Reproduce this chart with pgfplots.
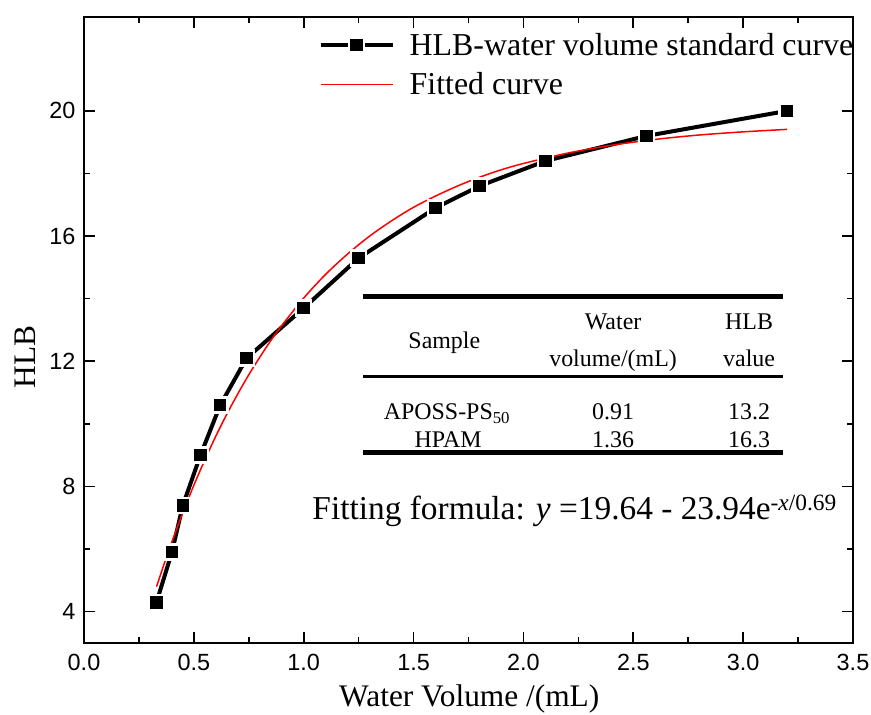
\documentclass[border=0pt]{standalone}
\usepackage{fontspec}
\setmainfont{Liberation Serif}
\newfontfamily\ticksans{Liberation Sans}
\usepackage{pgfplots}
\pgfplotsset{compat=1.18}
\begin{document}
\begin{tikzpicture}
\path[use as bounding box] (-84bp,-72bp) rectangle (787bp,643bp);
\begin{axis}[
  name=ax,
  at={(0,0)}, anchor=south west,
  width=769bp, height=626bp, scale only axis,
  xmin=0, xmax=3.5, ymin=3, ymax=23,
  xtick={0,0.5,1,1.5,2,2.5,3,3.5},
  ytick={4,8,12,16,20},
  minor x tick num=1,
  minor y tick num=1,
  tick align=inside,
  major tick length=11bp, minor tick length=6bp,
  axis line style={line width=1.6bp},
  every tick/.style={black, line width=1.6bp},
  /pgf/number format/assume math mode=true,
  xticklabel style={font=\fontsize{23.5}{27}\selectfont\ticksans, yshift=-8bp, /pgf/number format/.cd, fixed, fixed zerofill, precision=1},
  yticklabel style={font=\fontsize{23.5}{27}\selectfont\ticksans, xshift=-5bp},
  xlabel={Water Volume /(mL)},
  ylabel={HLB},
  label style={font=\fontsize{31.5}{36}\selectfont},
  xlabel style={at={(axis description cs:0.501,-0.1022)}, anchor=base},
  ylabel style={at={(axis description cs:-0.0637,0.457)}, anchor=base},
  legend style={at={(axis description cs:0.305,0.978)}, anchor=north west, draw=none, fill=none,
    font=\fontsize{32}{36}\selectfont, inner sep=0pt, row sep=12bp},
  legend cell align=left,
  legend image code/.code={\draw[mark repeat=2,mark phase=2,#1] plot coordinates {(0bp,0bp) (36bp,0bp) (72bp,0bp)};\path (85bp,0bp);},
  clip=false,
]
\addplot[black, line width=4bp, mark=square*, mark size=7.5bp,
  mark options={solid, fill=black, draw=white, line width=2.5bp}] coordinates {
(0.33,4.3) (0.40,5.9) (0.45,7.4) (0.53,9.0) (0.62,10.6) (0.74,12.1) (1.00,13.7)
(1.25,15.3) (1.60,16.9) (1.80,17.6) (2.10,18.4) (2.56,19.2) (3.20,20.0)
};
\addlegendentry{HLB-water volume standard curve}
\addplot[red, line width=1.5bp, smooth, no marks] coordinates {
(0.33,4.80) (0.36,5.43) (0.40,6.23) (0.45,7.17) (0.50,8.04) (0.55,8.85) (0.60,9.61)
(0.65,10.31) (0.70,10.96) (0.75,11.57) (0.80,12.13) (0.85,12.66) (0.90,13.14)
(1.00,14.02) (1.10,14.78) (1.20,15.43) (1.30,16.00) (1.40,16.49) (1.50,16.92)
(1.60,17.28) (1.70,17.60) (1.80,17.88) (1.90,18.12) (2.00,18.32) (2.20,18.65)
(2.40,18.90) (2.60,19.09) (2.80,19.23) (3.00,19.33) (3.20,19.41)
};
\addlegendentry{Fitted curve}
% inset table
\draw[line width=5.5bp] (axis cs:1.270,14.07) -- (axis cs:3.182,14.07);
\draw[line width=3bp] (axis cs:1.270,11.52) -- (axis cs:3.182,11.52);
\draw[line width=5.5bp] (axis cs:1.270,9.08) -- (axis cs:3.182,9.08);
\begin{scope}[every node/.style={anchor=base, inner sep=0pt, font=\fontsize{24}{28}\selectfont}]
\node at (axis cs:1.640,12.42) {Sample};
\node at (axis cs:2.408,13.03) {Water};
\node at (axis cs:2.408,11.82) {volume/(mL)};
\node at (axis cs:3.027,13.03) {HLB};
\node at (axis cs:3.027,11.82) {value};
\node at (axis cs:1.652,10.13) {APOSS-PS\textsubscript{50}};
\node at (axis cs:2.408,10.13) {0.91};
\node at (axis cs:3.027,10.13) {13.2};
\node at (axis cs:1.657,9.26) {HPAM};
\node at (axis cs:2.408,9.26) {1.36};
\node at (axis cs:3.027,9.26) {16.3};
\end{scope}
\node[anchor=base west, inner sep=0pt, font=\fontsize{33.5}{38}\selectfont] at (axis cs:1.039,6.96)
  {Fitting formula: \textit{y} =19.64 - 23.94e\textsuperscript{-\textit{x}/0.69}};
\end{axis}
\end{tikzpicture}
\end{document}
